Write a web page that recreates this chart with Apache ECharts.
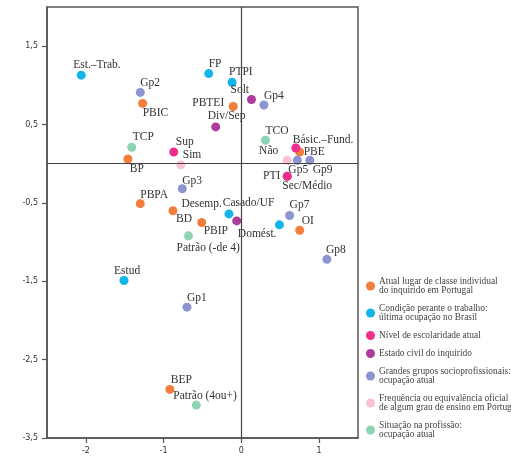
<!DOCTYPE html>
<html>
<head>
<meta charset="utf-8">
<script src="https://cdn.jsdelivr.net/npm/echarts@6/dist/echarts.min.js"></script>
<style>
html,body{margin:0;padding:0;background:#fff;}
#chart{width:511px;height:470px;}
</style>
</head>
<body>
<div id="chart"></div>
<script>
// ---- Data ----
const xTicks = [-2, -1, 0, 1];
const yTicks = [-3.5, -2.5, -1.5, -0.5, 0.5, 1.5];

const classeNames = ['PTI', 'PBIC', 'PBTEI', 'BP', 'PBPA', 'BD', 'PBIP', 'PBE', 'OI', 'BEP'];
const classeX = [0.59, -1.27, -0.105, -1.46, -1.30, -0.88, -0.51, 0.75, 0.75, -0.92];
const classeY = [-0.16, 0.77, 0.73, 0.06, -0.51, -0.60, -0.75, 0.15, -0.85, -2.88];

const condNames = ['Est.–Trab.', 'FP', 'PTPI', 'Desemp.', 'Domést.', 'Estud'];
const condX = [-2.06, -0.42, -0.12, -0.16, 0.49, -1.51];
const condY = [1.13, 1.15, 1.04, -0.64, -0.78, -1.49];

const escNames = ['Sup', 'Básic.–Fund.', 'Sec/Médio'];
const escX = [-0.87, 0.70, 0.59];
const escY = [0.15, 0.20, -0.16];

const civNames = ['Solt', 'Div/Sep', 'Casado/UF'];
const civX = [0.13, -0.33, -0.06];
const civY = [0.82, 0.47, -0.73];

const gpNames = ['Gp1', 'Gp2', 'Gp3', 'Gp4', 'Gp5', 'Gp7', 'Gp8', 'Gp9'];
const gpX = [-0.70, -1.30, -0.76, 0.29, 0.72, 0.62, 1.10, 0.88];
const gpY = [-1.83, 0.91, -0.32, 0.75, 0.045, -0.66, -1.22, 0.045];

const freqNames = ['Sim', 'Não'];
const freqX = [-0.78, 0.59];
const freqY = [-0.015, 0.045];

const sitNames = ['TCP', 'TCO', 'Patrão (-de 4)', 'Patrão (4ou+)'];
const sitX = [-1.41, 0.31, -0.68, -0.58];
const sitY = [0.21, 0.30, -0.92, -3.08];

const seriesNames = [
  'Atual lugar de classe individual\ndo inquirido em Portugal',
  'Condição perante o trabalho:\núltima ocupação no Brasil',
  'Nível de escolaridade atual',
  'Estado civil do inquirido',
  'Grandes grupos socioprofissionais:\nocupação atual',
  'Frequência ou equivalência oficial\nde algum grau de ensino em Portugal',
  'Situação na profissão:\nocupação atual'
];

// ---- Styles / layout ----
const colors = ['#f47d3c', '#12b5e8', '#ee2f8f', '#ad3c9b', '#8c95cf', '#f8c2d6', '#8fd3b5'];
const SYM = 9;

// label placement relative to the point centre: [dx, dy, align]
const labelPlace = {
  'Est.–Trab.': [-8, -10, 'left'], 'FP': [0, -10, 'left'], 'PTPI': [-3, -10, 'left'],
  'Gp2': [0, -9, 'left'], 'PBIC': [0, 10, 'left'], 'Solt': [-21, -9, 'left'],
  'PBTEI': [-9, -4, 'right'], 'Div/Sep': [-8, -11, 'left'], 'TCP': [1, -10, 'left'],
  'Sup': [2, -10, 'left'], 'Sim': [2, -10, 'left'], 'BP': [2, 10, 'left'],
  'Gp4': [0, -9, 'left'], 'TCO': [0, -9, 'left'], 'Não': [-9, -9, 'right'],
  'Básic.–Fund.': [-3, -8, 'left'], 'PBE': [4, 0, 'left'], 'Gp5': [-9, 10, 'left'],
  'Gp9': [3, 10, 'left'], 'PTI': [-7, 0, 'right'], 'Sec/Médio': [-5, 10, 'left'],
  'Gp3': [0, -8, 'left'], 'PBPA': [0, -9, 'left'], 'Desemp.': [-7, -10, 'right'],
  'BD': [3, 8, 'left'], 'Casado/UF': [-14, -18, 'left'], 'PBIP': [2, 8, 'left'],
  'Domést.': [-3, 9, 'right'], 'Patrão (-de 4)': [-12, 12, 'left'], 'Gp7': [0, -10, 'left'],
  'OI': [2, -9, 'left'], 'Gp8': [-1, -9, 'left'], 'Estud': [-10, -10, 'left'],
  'Gp1': [0, -9, 'left'], 'BEP': [1, -9, 'left'], 'Patrão (4ou+)': [-23, -9, 'left']
};

const groups = [
  [classeNames, classeX, classeY],
  [condNames, condX, condY],
  [escNames, escX, escY],
  [civNames, civX, civY],
  [gpNames, gpX, gpY],
  [freqNames, freqX, freqY],
  [sitNames, sitX, sitY]
];

const labelFont = 'Liberation Serif';

function buildData(names, xs, ys) {
  return names.map((n, i) => {
    const p = labelPlace[n] || [0, -10, 'left'];
    return {
      name: n,
      value: [xs[i], ys[i]],
      label: {
        show: true,
        position: [SYM / 2 + p[0], SYM / 2 + p[1]],
        align: p[2],
        verticalAlign: 'middle'
      }
    };
  });
}

const series = groups.map((g, i) => ({
  name: seriesNames[i],
  type: 'scatter',
  symbol: 'circle',
  symbolSize: SYM,
  itemStyle: { color: colors[i], opacity: 1 },
  data: buildData(g[0], g[1], g[2]),
  label: {
    show: true,
    formatter: '{b}',
    color: '#333',
    fontFamily: labelFont,
    fontSize: 11.5
  },
  labelLayout: { hideOverlap: false },
  emphasis: { disabled: true },
  z: 3
}));

series.push({
  type: 'scatter',
  data: [],
  silent: true,
  markLine: {
    silent: true,
    symbol: 'none',
    label: { show: false },
    lineStyle: { color: '#444', width: 1.2, type: 'solid' },
    data: [{ xAxis: 0 }, { yAxis: 0 }]
  },
  z: 1
});

const tickFmt = v => String(v).replace('.', ',');

const chart = echarts.init(document.getElementById('chart'), null, { renderer: 'canvas' });
chart.setOption({
  animation: false,
  backgroundColor: '#fff',
  grid: {
    left: 47, right: 153, top: 7, bottom: 32,
    show: true, borderColor: '#555', borderWidth: 1.5, backgroundColor: 'transparent'
  },
  xAxis: {
    type: 'value', min: -2.5, max: 1.5,
    axisLine: { show: true, onZero: false, lineStyle: { color: '#555', width: 1.5 } },
    axisTick: { show: true, length: 5, customValues: xTicks, lineStyle: { color: '#555', width: 1.2 } },
    axisLabel: { customValues: xTicks, formatter: tickFmt, color: '#333', fontSize: 8, fontFamily: 'DejaVu Sans', margin: 9 },
    splitLine: { show: false }
  },
  yAxis: {
    type: 'value', min: -3.5, max: 2,
    axisLine: { show: true, onZero: false, lineStyle: { color: '#555', width: 1.5 } },
    axisTick: { show: true, length: 5, customValues: yTicks, lineStyle: { color: '#555', width: 1.2 } },
    axisLabel: { customValues: yTicks, formatter: tickFmt, color: '#333', fontSize: 8, fontFamily: 'DejaVu Sans', margin: 9 },
    splitLine: { show: false }
  },
  legend: {
    orient: 'vertical',
    left: 366, top: 277,
    icon: 'circle',
    itemWidth: 9, itemHeight: 9, itemGap: 9,
    padding: 0,
    selectedMode: false,
    data: seriesNames,
    textStyle: { fontFamily: labelFont, fontSize: 9.4, lineHeight: 9, color: '#444', padding: [0, 0, 0, -1] }
  },
  series: series
});
</script>
</body>
</html>
